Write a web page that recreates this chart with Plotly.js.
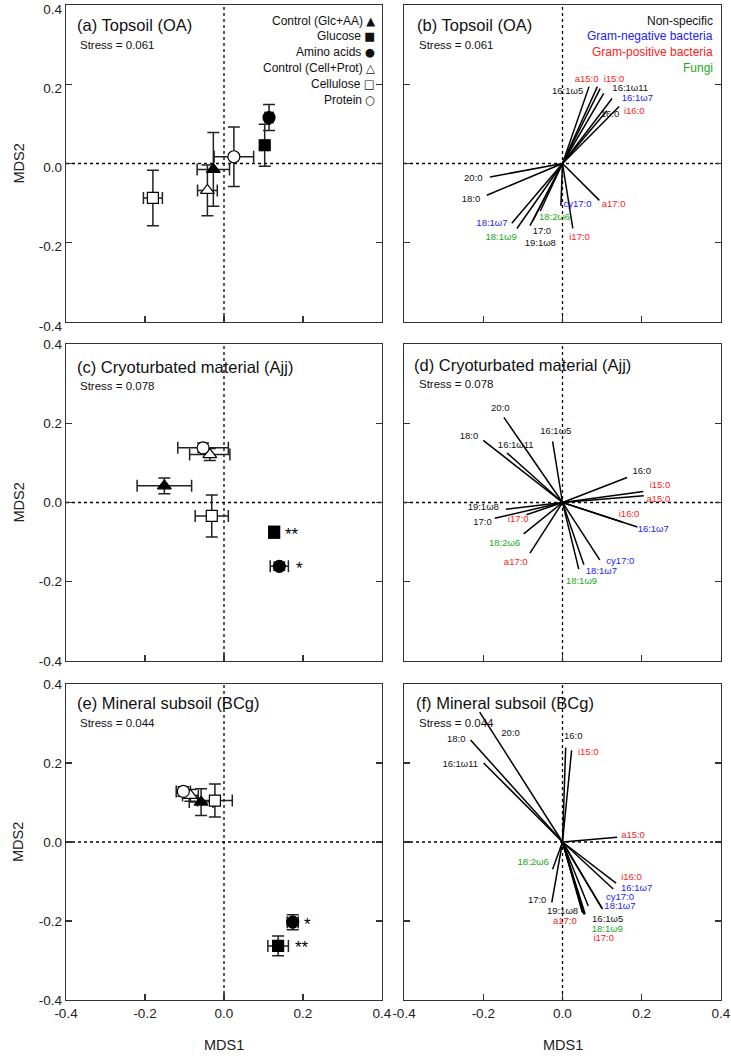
<!DOCTYPE html>
<html>
<head>
<meta charset="utf-8">
<script src="https://cdn.plot.ly/plotly-3.0.1.min.js"></script>
<style>
  body { margin: 0; background: #fff; }
  #chart { width: 731px; height: 1056px; }
</style>
</head>
<body>
<div id="chart"></div>
<script>
// treatments (same order in every left panel)
var treatments = ["Control (Glc+AA)", "Glucose", "Amino acids", "Control (Cell+Prot)", "Cellulose", "Protein"];
var legendGlyph = ["\u25B2", "\u25A0", "\u25CF", "\u25B3", "\u25A1", "\u25CB"];

// (a) topsoil
var aX    = [-0.027, 0.103, 0.114, -0.042, -0.180, 0.025];
var aY    = [-0.015, 0.046, 0.116, -0.068, -0.087, 0.017];
var aXerr = [0.041, 0.008, 0.010, 0.025, 0.024, 0.050];
var aYerr = [0.093, 0.053, 0.033, 0.064, 0.070, 0.075];
var aSig  = ["", "", "", "", "", ""];

// (c) cryoturbated material
var cX    = [-0.151, 0.127, 0.140, -0.036, -0.031, -0.053];
var cY    = [0.042, -0.075, -0.161, 0.121, -0.034, 0.138];
var cXerr = [0.069, 0.012, 0.023, 0.051, 0.042, 0.064];
var cYerr = [0.020, 0.015, 0.010, 0.015, 0.053, 0.012];
var cSig  = ["", "**", "*", "", "", ""];

// (e) mineral subsoil
var eX    = [-0.058, 0.137, 0.174, -0.085, -0.023, -0.103];
var eY    = [0.101, -0.263, -0.203, 0.118, 0.105, 0.128];
var eXerr = [0.030, 0.026, 0.014, 0.020, 0.044, 0.018];
var eYerr = [0.034, 0.025, 0.019, 0.015, 0.042, 0.012];
var eSig  = ["", "**", "*", "", "", ""];

var stress = ["0.061", "0.078", "0.044"];

// fatty acids
var faNames = ["16:0", "18:0", "20:0", "16:1\u03C95", "16:1\u03C911", "17:0", "19:1\u03C98",
               "16:1\u03C97", "18:1\u03C97", "cy17:0",
               "i15:0", "a15:0", "i16:0", "i17:0", "a17:0",
               "18:1\u03C99", "18:2\u03C96"];
var faGroup = ["ns", "ns", "ns", "ns", "ns", "ns", "ns",
               "gn", "gn", "gn",
               "gp", "gp", "gp", "gp", "gp",
               "fu", "fu"];
var groupNames = ["Non-specific", "Gram-negative bacteria", "Gram-positive bacteria", "Fungi"];

// (b) vector ends and label spots
var bVx = [0.112, -0.191, -0.183, 0.067, 0.104, -0.075, -0.082, 0.125, -0.128, -0.004, 0.095, 0.088, 0.143, 0.026, 0.093, -0.115, -0.056];
var bVy = [0.133, -0.080, -0.034, 0.194, 0.177, -0.145, -0.157, 0.164, -0.151, -0.107, 0.189, 0.194, 0.144, -0.164, -0.093, -0.164, -0.120];
var bLx = [0.120, -0.231, -0.225, 0.013, 0.171, -0.052, -0.056, 0.189, -0.178, 0.038, 0.130, 0.061, 0.181, 0.043, 0.129, -0.155, -0.020];
var bLy = [0.123, -0.090, -0.037, 0.181, 0.188, -0.173, -0.201, 0.164, -0.151, -0.105, 0.211, 0.211, 0.130, -0.187, -0.105, -0.187, -0.136];

// (d)
var dVx = [0.163, -0.200, -0.148, -0.025, -0.140, -0.171, -0.143, 0.189, 0.054, 0.094, 0.204, 0.205, 0.150, -0.091, -0.082, 0.041, -0.098];
var dVy = [0.063, 0.157, 0.215, 0.154, 0.125, -0.040, -0.017, -0.062, -0.157, -0.145, 0.028, 0.017, -0.049, -0.031, -0.128, -0.168, -0.079];
var dLx = [0.200, -0.236, -0.157, -0.017, -0.118, -0.202, -0.200, 0.229, 0.098, 0.146, 0.246, 0.242, 0.168, -0.112, -0.118, 0.048, -0.146];
var dLy = [0.078, 0.167, 0.238, 0.179, 0.144, -0.051, -0.014, -0.069, -0.174, -0.149, 0.042, 0.008, -0.031, -0.044, -0.151, -0.199, -0.103];

// (f)
var fVx = [0.008, -0.232, -0.209, 0.065, -0.199, -0.027, 0.050, 0.128, 0.099, 0.101, 0.023, 0.138, 0.135, 0.055, 0.052, 0.057, -0.025];
var fVy = [0.239, 0.258, 0.329, -0.162, 0.200, -0.153, -0.178, -0.119, -0.167, -0.170, 0.232, 0.012, -0.104, -0.184, -0.180, -0.182, -0.069];
var fLx = [0.027, -0.268, -0.131, 0.114, -0.258, -0.064, 0.000, 0.187, 0.145, 0.145, 0.065, 0.178, 0.174, 0.104, 0.006, 0.113, -0.074];
var fLy = [0.268, 0.259, 0.274, -0.196, 0.196, -0.149, -0.177, -0.118, -0.164, -0.141, 0.226, 0.017, -0.090, -0.245, -0.201, -0.221, -0.051];

var tickVals = [-0.4, -0.2, 0, 0.2, 0.4];
var tickText = ["-0.4", "-0.2", "0.0", "0.2", "0.4"];

var FONT = "Arial, 'Liberation Sans', sans-serif";
var groupColor = { ns: "#111111", gn: "#2020ff", gp: "#ff2020", fu: "#20a820" };
var legendColors = ["#111111", "#2020ff", "#ff2020", "#20a820"];
var symbols = ["triangle-up", "square", "circle", "triangle-up", "square", "circle"];
var fills = ["#000", "#000", "#000", "#fff", "#fff", "#fff"];
var sizes = [12, 11, 12, 12, 11, 12];

var traces = [];
var annotations = [];
var shapes = [];

function scoreTraces(xs, ys, xe, ye, sig, ax) {
  // error bars first, markers drawn on top
  traces.push({
    x: xs, y: ys, xaxis: "x" + ax, yaxis: "y" + ax,
    type: "scatter", mode: "markers", hoverinfo: "skip", showlegend: false,
    error_x: { type: "data", array: xe, color: "#222", thickness: 1.5, width: 6 },
    error_y: { type: "data", array: ye, color: "#222", thickness: 1.5, width: 6 },
    marker: { size: 1, opacity: 0 }
  });
  traces.push({
    x: xs, y: ys, xaxis: "x" + ax, yaxis: "y" + ax,
    type: "scatter", mode: "markers", hoverinfo: "skip", showlegend: false,
    text: treatments,
    marker: { symbol: symbols, color: fills, size: sizes, opacity: 1, line: { color: "#000", width: 1.2 } }
  });
  for (var i = 0; i < sig.length; i++) {
    if (!sig[i]) continue;
    annotations.push({ xref: "x" + ax, yref: "y" + ax, x: xs[i], y: ys[i],
      xanchor: "left", yanchor: "middle", xshift: xe[i] > 0.02 ? 15 : 9, yshift: -2,
      showarrow: false, text: sig[i],
      font: { family: FONT, size: 17, color: "#000" } });
  }
}

function vectorTraces(vx, vy, lx, ly, ax) {
  var xs = [], ys = [];
  for (var i = 0; i < vx.length; i++) {
    xs.push(0, vx[i], null);
    ys.push(0, vy[i], null);
  }
  traces.push({
    x: xs, y: ys, xaxis: "x" + ax, yaxis: "y" + ax,
    type: "scatter", mode: "lines", hoverinfo: "skip", showlegend: false,
    line: { color: "#000", width: 1.5 }
  });
  traces.push({
    x: lx, y: ly, xaxis: "x" + ax, yaxis: "y" + ax,
    type: "scatter", mode: "text", hoverinfo: "skip", showlegend: false,
    text: faNames, textposition: "middle center",
    textfont: { family: FONT, size: 9.5, color: faGroup.map(function (g) { return groupColor[g]; }) }
  });
}

scoreTraces(aX, aY, aXerr, aYerr, aSig, "");
vectorTraces(bVx, bVy, bLx, bLy, "2");
scoreTraces(cX, cY, cXerr, cYerr, cSig, "3");
vectorTraces(dVx, dVy, dLx, dLy, "4");
scoreTraces(eX, eY, eXerr, eYerr, eSig, "5");
vectorTraces(fVx, fVy, fLx, fLy, "6");

var W = 731, H = 1056;
var colDom = [[66 / W, 382 / W], [404 / W, 721 / W]];
var rowDom = [[1 - 322 / H, 1 - 5 / H], [1 - 661 / H, 1 - 344 / H], [1 - 1000 / H, 1 - 684 / H]];

var layout = {
  width: W, height: H,
  margin: { l: 0, r: 0, t: 0, b: 0 },
  paper_bgcolor: "#fff", plot_bgcolor: "#fff",
  font: { family: FONT, size: 13, color: "#222" },
  showlegend: false
};

var titles = [
  "(a) Topsoil (OA)", "(b) Topsoil (OA)",
  "(c) Cryoturbated material (Ajj)", "(d) Cryoturbated material (Ajj)",
  "(e) Mineral subsoil (BCg)", "(f) Mineral subsoil (BCg)"
];
var titleX = [0.028, 0.035, 0.028, 0.024, 0.028, 0.03];
var titleY = [0.937, 0.937, 0.927, 0.934, 0.94, 0.941];
var stressX = [0.038, 0.04, 0.038, 0.04, 0.038, 0.04];
var stressY = [0.874, 0.874, 0.867, 0.874, 0.877, 0.878];

for (var p = 0; p < 6; p++) {
  var row = Math.floor(p / 2), col = p % 2;
  var id = p === 0 ? "" : String(p + 1);
  layout["xaxis" + id] = {
    domain: colDom[col], anchor: "y" + id, range: [-0.4, 0.4],
    tickvals: tickVals, ticktext: tickText, showticklabels: row === 2,
    ticks: "inside", ticklen: 6, tickwidth: 1.3, tickcolor: "#333",
    showline: true, mirror: true, linecolor: "#333", linewidth: 1.3,
    showgrid: false, zeroline: false, fixedrange: true, ticklabeloverflow: "allow",
    tickfont: { family: FONT, size: 13.5, color: "#222" }
  };
  layout["yaxis" + id] = {
    domain: rowDom[row], anchor: "x" + id, range: [-0.4, 0.4],
    tickvals: tickVals, ticktext: tickText, showticklabels: col === 0,
    ticks: "inside", ticklen: 6, tickwidth: 1.3, tickcolor: "#333",
    showline: true, mirror: "ticks", linecolor: "#333", linewidth: 1.3,
    showgrid: false, zeroline: false, fixedrange: true, ticklabeloverflow: "allow",
    ticklabelshift: row === 0 ? 4 : 0,
    tickfont: { family: FONT, size: 13.5, color: "#222" }
  };
  var xr = "x" + id, yr = "y" + id;
  shapes.push({ type: "line", layer: "below", xref: xr, yref: yr + " domain", x0: 0, x1: 0, y0: 0, y1: 1,
    line: { color: "#000", width: 1.3, dash: "dot" } });
  shapes.push({ type: "line", layer: "below", xref: xr + " domain", yref: yr, x0: 0, x1: 1, y0: 0, y1: 0,
    line: { color: "#000", width: 1.3, dash: "dot" } });
  annotations.push({ xref: xr + " domain", yref: yr + " domain", x: titleX[p], y: titleY[p],
    xanchor: "left", yanchor: "middle", showarrow: false, text: titles[p],
    font: { family: FONT, size: 16.5, color: "#111" } });
  annotations.push({ xref: xr + " domain", yref: yr + " domain", x: stressX[p], y: stressY[p],
    xanchor: "left", yanchor: "middle", showarrow: false, text: "Stress = " + stress[row],
    font: { family: FONT, size: 11.5, color: "#111" } });
  if (col === 0) {
    annotations.push({ xref: "paper", yref: yr + " domain", x: 18 / W, y: 0.5, textangle: -90,
      xanchor: "center", yanchor: "middle", showarrow: false, text: "MDS2",
      font: { family: FONT, size: 14.5, color: "#222" } });
  }
  if (row === 2) {
    annotations.push({ xref: xr + " domain", yref: "paper", x: 0.5, y: 1 - 1045 / H,
      xanchor: "center", yanchor: "middle", showarrow: false, text: "MDS1",
      font: { family: FONT, size: 14.5, color: "#222" } });
  }
}

// legends as right-aligned text
var legY = [0.950, 0.902, 0.851, 0.800, 0.750, 0.700];
for (var i = 0; i < treatments.length; i++) {
  annotations.push({ xref: "x domain", yref: "y domain", x: 0.985, y: legY[i],
    xanchor: "right", yanchor: "middle", showarrow: false,
    text: treatments[i] + " <span style=\"font-family:'DejaVu Sans';font-size:11.5px\">" + legendGlyph[i] + "</span>",
    font: { family: FONT, size: 12, color: "#111" } });
}
for (var g = 0; g < groupNames.length; g++) {
  annotations.push({ xref: "x2 domain", yref: "y2 domain", x: 0.981, y: legY[g],
    xanchor: "right", yanchor: "middle", showarrow: false,
    text: groupNames[g], font: { family: FONT, size: 12, color: legendColors[g] } });
}

layout.shapes = shapes;
layout.annotations = annotations;

Plotly.newPlot("chart", traces, layout, { displayModeBar: false, staticPlot: true });
</script>
</body>
</html>
